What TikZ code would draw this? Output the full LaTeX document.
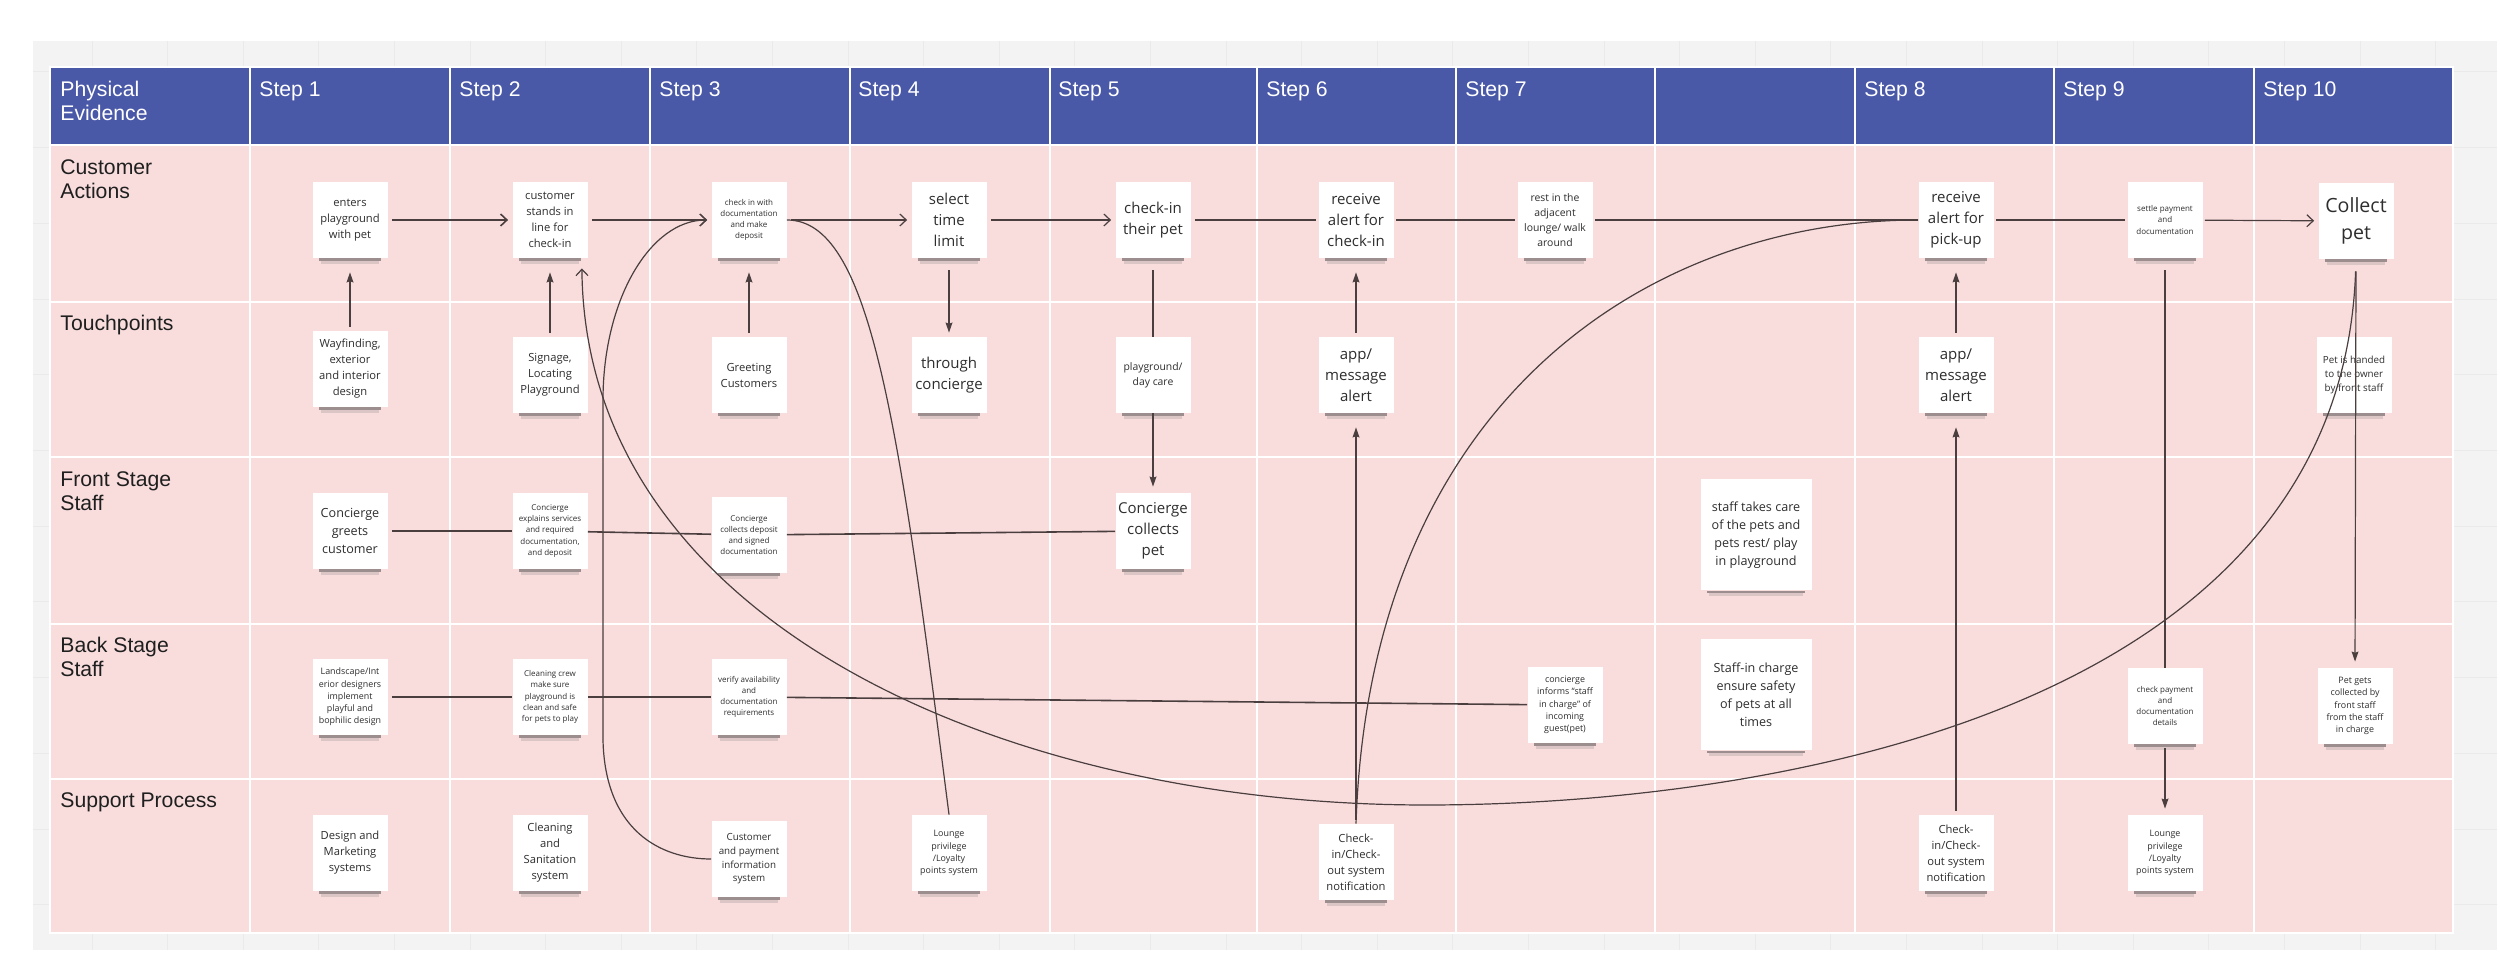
\documentclass[tikz,border=0pt]{standalone}
\usepackage{fontspec}
\setmainfont{Liberation Sans}
\newfontfamily\notefont{Open Sans}
\usetikzlibrary{arrows.meta}
\definecolor{hdr}{HTML}{4A58A8}
\definecolor{cell}{HTML}{F9DDDD}
\definecolor{board}{HTML}{F3F3F3}
\definecolor{gridc}{HTML}{EAEAEA}
\definecolor{ink}{HTML}{4A3E3E}
\definecolor{notetext}{HTML}{2E2E2E}
\newcommand\pnote[5]{%
  \node[note,#4] (#1) at (#2,#3) {#5};
  \fill[shdA] ([xshift=3.5pt]#1.south west) rectangle ([xshift=-3.5pt,yshift=-1.3pt]#1.south east);
  \fill[shdB] ([xshift=4.5pt,yshift=-1.3pt]#1.south west) rectangle ([xshift=-4.5pt,yshift=-2.8pt]#1.south east);
}
\begin{document}
\begin{tikzpicture}[x=0.5pt,y=-0.5pt,
  sep/.style={draw=white, line width=1pt},
  lab/.style={anchor=north west, inner sep=0pt, align=left, text=black!88, font=\fontsize{10.6}{12}\selectfont},
  hlab/.style={lab, text=white},
  note/.style={fill=white, inner sep=1pt, align=center, minimum width=37.5pt, minimum height=38pt, text=notetext},
  bignote/.style={minimum width=55.5pt, minimum height=55.5pt},
  shdA/.style={fill=black!75, opacity=.5},
  shdB/.style={fill=black!55, opacity=.22},
  fA/.style={font=\notefont\fontsize{9.8}{13.5}\selectfont},
  fB/.style={font=\notefont\fontsize{7.5}{10.5}\selectfont},
  fC2/.style={font=\notefont\fontsize{6.3}{9}\selectfont},
  fC/.style={font=\notefont\fontsize{5.6}{8}\selectfont},
  fD/.style={font=\notefont\fontsize{5.2}{7.6}\selectfont},
  fE/.style={font=\notefont\fontsize{4.9}{6.8}\selectfont},
  fF/.style={font=\notefont\fontsize{4.45}{6.1}\selectfont},
  fG/.style={font=\notefont\fontsize{4.0}{5.6}\selectfont},
  conn/.style={draw=ink, line width=0.6pt},
  hconn/.style={draw=ink, line width=0.8pt},
  oarr/.style={-{Straight Barb[length=3.2pt,width=6pt]}},
  farr/.style={-{Stealth[length=5pt,width=3.4pt,inset=0.6pt]}}
]
\useasboundingbox (0,0) rectangle (2500,961);
\fill[white] (0,0) rectangle (2500,961);
% board with faint grid
\fill[board] (33,41) rectangle (2497,950);
\foreach \k in {0,...,31} \draw[gridc, line width=0.5pt] (92+75.6*\k,41) -- (92+75.6*\k,950);
\foreach \k in {0,...,11} \draw[gridc, line width=0.5pt] (33,72+75.7*\k) -- (2497,72+75.7*\k);
% table
\fill[cell] (50,145) rectangle (2453,933);
\fill[hdr] (50,67) rectangle (2453,145);
\foreach \x in {250,450,650,850,1050,1257,1456,1655,1855,2054,2254} \draw[sep] (\x,67) -- (\x,933);
\foreach \y in {145,302,457,624,779} \draw[sep] (50,\y) -- (2453,\y);
\draw[sep] (50,67) rectangle (2453,933);
% header labels
\node[hlab] (pe) at (60,81) {Physical\\Evidence};
\node[hlab] (h1) at (259,81) {Step 1};
\node[hlab] (h2) at (459,81) {Step 2};
\node[hlab] (h3) at (659,81) {Step 3};
\node[hlab] (h4) at (858,81) {Step 4};
\node[hlab] (h5) at (1058,81) {Step 5};
\node[hlab] (h6) at (1266,81) {Step 6};
\node[hlab] (h7) at (1465,81) {Step 7};
\node[hlab] (h8) at (1864,81) {Step 8};
\node[hlab] (h9) at (2063,81) {Step 9};
\node[hlab] (h10) at (2263,81) {Step 10};
% row labels
\node[lab] (r1) at (60,159) {Customer\\Actions};
\node[lab] (r2) at (60,315) {Touchpoints};
\node[lab] (r3) at (60,471) {Front Stage\\Staff};
\node[lab] (r4) at (60,637) {Back Stage\\Staff};
\node[lab] (r5) at (60,792) {Support Process};
% customer actions
\pnote{C1}{350}{220}{fC}{enters\\playground\\with pet}
\pnote{C2}{550}{220}{fC}{customer\\stands in\\line for\\check-in}
\pnote{C3}{749}{220}{fG}{check in with\\documentation\\and make\\deposit}
\pnote{C4}{949}{220}{fB}{select\\time\\limit}
\pnote{C5}{1153}{220}{fB}{check-in\\their pet}
\pnote{C6}{1356}{220}{fB}{receive\\alert for\\check-in}
\pnote{C7}{1555}{220}{fD}{rest in the\\adjacent\\lounge/ walk\\around}
\pnote{C8}{1956}{220}{fB}{receive\\alert for\\pick-up}
\pnote{C9}{2165}{220}{fG}{settle payment\\and\\documentation}
\pnote{C10}{2356}{221}{fA}{Collect\\pet}
% touchpoints
\pnote{T1}{350}{369}{fC}{Wayfinding,\\exterior\\and interior\\design}
\pnote{T2}{550}{375}{fC}{Signage,\\Locating\\Playground}
\pnote{T3}{749}{375}{fC}{Greeting\\Customers}
\pnote{T4}{949}{375}{fB}{through\\concierge}
\pnote{T5}{1153}{375}{fD}{playground/\\day care}
\pnote{T6}{1356}{375}{fB}{app/\\message\\alert}
\pnote{T8}{1956}{375}{fB}{app/\\message\\alert}
\pnote{T10}{2354}{375}{fE}{Pet is handed\\to the owner\\by front staff}
% front stage
\pnote{F1}{350}{531}{fC2}{Concierge\\greets\\customer}
\pnote{F2}{550}{531}{fG}{Concierge\\explains services\\and required\\documentation,\\and deposit}
\pnote{F3}{749}{535}{fG}{Concierge\\collects deposit\\and signed\\documentation}
\pnote{F5}{1153}{531}{fB}{Concierge\\collects\\pet}
\pnote{FX}{1756}{535}{fC2,bignote}{staff takes care\\of the pets and\\pets rest/ play\\in playground}
% back stage
\pnote{B1}{350}{697}{fF}{Landscape/Int\\erior designers\\implement\\playful and\\bophilic design}
\pnote{B2}{550}{697}{fG}{Cleaning crew\\make sure\\playground is\\clean and safe\\for pets to play}
\pnote{B3}{749}{697}{fG}{verify availability\\and\\documentation\\requirements}
\pnote{B7}{1565}{705}{fF}{concierge\\informs “staff\\in charge” of\\incoming\\guest(pet)}
\pnote{BX}{1756}{695}{fC2,bignote}{Staff-in charge\\ensure safety\\of pets at all\\times}
\pnote{B9}{2165}{706}{fG}{check payment\\and\\documentation\\details}
\pnote{B10}{2355}{706}{fF}{Pet gets\\collected by\\front staff\\from the staff\\in charge}
% support
\pnote{S1}{350}{853}{fC}{Design and\\Marketing\\systems}
\pnote{S2}{550}{853}{fC}{Cleaning\\and\\Sanitation\\system}
\pnote{S3}{749}{859}{fE}{Customer\\and payment\\information\\system}
\pnote{S4}{949}{853}{fF}{Lounge\\privilege\\/Loyalty\\points system}
\pnote{S6}{1356}{862}{fC}{Check-\\in/Check-\\out system\\notification}
\pnote{S8}{1956}{853}{fC}{Check-\\in/Check-\\out system\\notification}
\pnote{S9}{2165}{853}{fF}{Lounge\\privilege\\/Loyalty\\points system}
% customer row connectors
\draw[hconn,oarr,shorten <=2pt,shorten >=2pt] (C1) -- (C2);
\draw[conn,oarr,shorten <=2pt,shorten >=2pt] (C2) -- (C3);
\draw[conn,oarr,shorten <=2pt,shorten >=2pt] (C3) -- (C4);
\draw[conn,oarr,shorten <=2pt,shorten >=2pt] (C4) -- (C5);
\draw[conn,shorten <=2pt,shorten >=1pt] (C5) -- (C6);
\draw[conn,shorten <=1pt,shorten >=1pt] (C6) -- (C7);
\draw[conn,shorten <=1pt] (C7) -- (C8);
\draw[conn,shorten <=1pt,shorten >=1pt] (C8) -- (C9);
\draw[conn,oarr,shorten <=1pt,shorten >=2pt] (C9) -- (C10);
% vertical connectors
\draw[conn,farr,shorten <=2pt,shorten >=7pt] (T1.north) -- (C1.south);
\draw[conn,farr,shorten <=2pt,shorten >=7pt] (T2.north) -- (C2.south);
\draw[conn,farr,shorten <=2pt,shorten >=7pt] (T3.north) -- (C3.south);
\draw[conn,farr,shorten <=6pt,shorten >=2pt] (C4.south) -- (T4.north);
\draw[conn,shorten <=6pt] (C5.south) -- (T5.north);
\draw[conn,farr,shorten <=0pt,shorten >=3pt] (T5.south) -- (F5.north);
\draw[conn,farr,shorten <=2pt,shorten >=7pt] (T6.north) -- (C6.south);
\draw[conn,farr,shorten <=2pt,shorten >=7pt] (S6.north) -- (T6.south);
\draw[conn,farr,shorten <=2pt,shorten >=7pt] (T8.north) -- (C8.south);
\draw[conn,farr,shorten <=2pt,shorten >=7pt] (S8.north) -- (T8.south);
\draw[conn,shorten <=6pt] (C9.south) -- (B9.north);
\draw[conn,farr,shorten <=2pt,shorten >=3pt] (B9.south) -- (S9.north);
\draw[conn,farr,shorten <=6pt,shorten >=3pt] (C10.south) -- (B10.north);
% front and back stage lines
\draw[hconn,shorten <=2pt] (F1) -- (F2);
\draw[hconn] (F2) -- (F3);
\draw[hconn] (F3) -- (F5);
\draw[hconn,shorten <=2pt] (B1) -- (B2);
\draw[hconn] (B2) -- (B3);
\draw[hconn] (B3) -- (B7);
% curves
\draw[conn,oarr,shorten >=2pt] (S3.west) .. controls (660,859) and (605,830) .. (603,740) -- (603,400) .. controls (603,300) and (650,220) .. (C3.west);
\draw[conn] (C3.east) .. controls (870,220) and (898,415) .. (S4.north);
\draw[conn,oarr,shorten <=6pt] (C10.south) .. controls (2340,720) and (1750,805) .. (1426,805) .. controls (1000,805) and (585,620) .. ([xshift=-3pt,yshift=-5pt]C2.south east);
\draw[conn] (S6.north) .. controls (1370,400) and (1650,220) .. (C8.west);
\end{tikzpicture}
\end{document}
